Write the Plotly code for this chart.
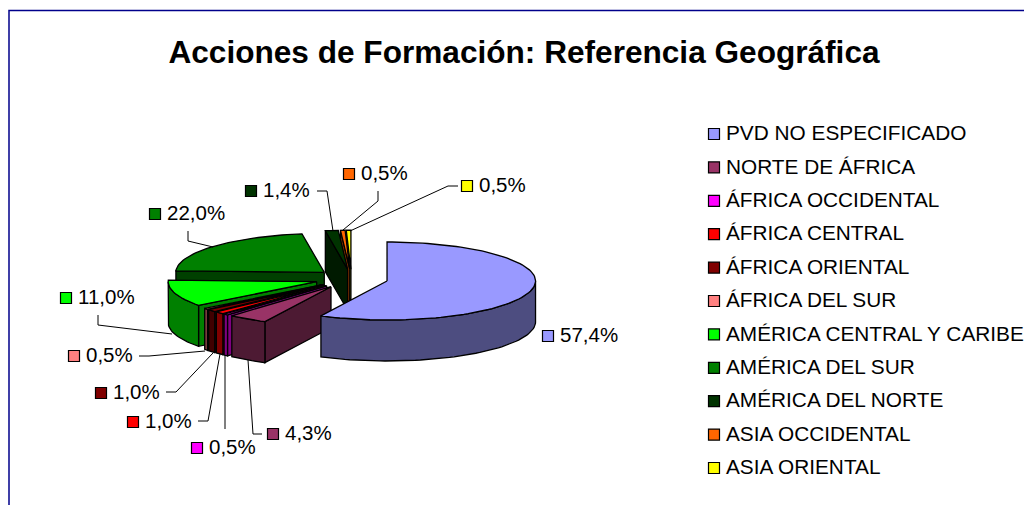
import math
import plotly.graph_objects as go

# ---- data ----
categories = ["PVD NO ESPECIFICADO", "NORTE DE ÁFRICA", "ÁFRICA OCCIDENTAL", "ÁFRICA CENTRAL",
              "ÁFRICA ORIENTAL", "ÁFRICA DEL SUR", "AMÉRICA CENTRAL Y CARIBE", "AMÉRICA DEL SUR",
              "AMÉRICA DEL NORTE", "ASIA OCCIDENTAL", "ASIA ORIENTAL"]
values = [57.4, 4.3, 0.5, 1.0, 1.0, 0.5, 11.0, 22.0, 1.4, 0.5, 0.5]
title_text = "Acciones de Formación: Referencia Geográfica"

# ---- styles ----
top_colors = ["#9999FF", "#993366", "#FF00FF", "#FF0000", "#800000", "#FF8080",
              "#00FF00", "#008000", "#003300", "#FF6600", "#FFFF00"]
side_colors = ["#4D4D80", "#4D1A33", "#800080", "#800000", "#400000", "#804040",
               "#008000", "#004000", "#001A00", "#803300", "#808000"]

# ---- layout of the pseudo-3D pie (axes are in screen pixels) ----
CX, CY, RX, RY, DEPTH, EXPLODE = 351.5, 278.8, 148.5, 39, 41, 36.5
FONT = "Liberation Sans, Arial, sans-serif"
EDGE = dict(color="black", width=1.3)

# swatch centre of each data label, matching order of categories
label_pos = [(548, 336), (273, 434), (197, 448), (133, 422), (101, 393), (74, 356),
             (66, 298), (155, 214), (251, 191), (349, 174), (467, 186)]
leaders = [None,
           [(262, 434), (253, 434), (248, 360)],
           [(225, 429), (225, 355)],
           [(198, 421), (208, 421), (220, 354)],
           [(166, 392), (176, 392), (213, 353)],
           [(139, 356), (149, 356), (205, 351)],
           [(98, 315), (98, 325), (172, 334)],
           [(188, 231), (188, 241), (213, 247)],
           [(317, 191), (327, 191), (333, 231)],
           [(378, 191), (378, 201), (343, 230)],
           [(458, 186), (448, 186), (350, 231)]]
legend_x, legend_y0, legend_dy = 714, 134, 33.4
TEXT_GAP, TEXT_DY = 12, 1

fig = go.Figure()


def poly(pts, fill):
    xs = [p[0] for p in pts] + [pts[0][0]]
    ys = [p[1] for p in pts] + [pts[0][1]]
    fig.add_trace(go.Scatter(x=xs, y=ys, mode="lines", fill="toself", fillcolor=fill,
                             line=EDGE, hoverinfo="skip", showlegend=False))


total = sum(values)
slices = []
cum = 0.0
for i, v in enumerate(values):
    a0 = cum / total * 360
    cum += v
    a1 = cum / total * 360
    slices.append((i, a0, a1))


def cos_mid(s):
    return math.cos(math.radians((s[1] + s[2]) / 2))


# back slices first, the first (largest) slice is painted last, on top of its neighbours
order = sorted(slices[1:], key=lambda s: -cos_mid(s)) + slices[:1]

for i, a0, a1 in order:
    mid = math.radians((a0 + a1) / 2)
    ax = CX + EXPLODE * math.sin(mid)
    ay = CY - EXPLODE * RY / RX * math.cos(mid)

    def pt(deg, dz=0):
        r = math.radians(deg)
        return (ax + RX * math.sin(r), ay - RY * math.cos(r) + dz)

    def arc(d0, d1, dz=0):
        n = max(2, int((d1 - d0) / 2) + 2)
        return [pt(d0 + (d1 - d0) * k / (n - 1), dz) for k in range(n)]

    # cut faces that look towards the viewer
    if math.sin(math.radians(a0)) < 0:
        poly([(ax, ay), pt(a0), pt(a0, DEPTH), (ax, ay + DEPTH)], side_colors[i])
    if math.sin(math.radians(a1)) > 0:
        poly([(ax, ay), pt(a1), pt(a1, DEPTH), (ax, ay + DEPTH)], side_colors[i])
    # outer rim (only the part that faces the viewer)
    r0, r1 = max(a0, 90), min(a1, 270)
    if r1 > r0:
        poly(arc(r0, r1) + arc(r0, r1, DEPTH)[::-1], side_colors[i])
    # top
    poly([(ax, ay)] + arc(a0, a1), top_colors[i])

# leader lines
for seg in leaders:
    if seg:
        fig.add_trace(go.Scatter(x=[p[0] for p in seg], y=[p[1] for p in seg], mode="lines",
                                 line=dict(color="black", width=1), hoverinfo="skip", showlegend=False))

MARK = dict(symbol="square", size=11, color=top_colors, line=dict(color="black", width=1.2))

# data labels
fig.add_trace(go.Scatter(
    x=[p[0] for p in label_pos], y=[p[1] for p in label_pos], mode="markers",
    marker=MARK, hoverinfo="skip", showlegend=False))
fig.add_trace(go.Scatter(
    x=[p[0] + TEXT_GAP for p in label_pos], y=[p[1] + TEXT_DY for p in label_pos], mode="text",
    text=[f"{v:.1f}%".replace(".", ",") for v in values],
    textposition="middle right", textfont=dict(family=FONT, size=20.5, color="black"),
    hoverinfo="skip", showlegend=False))

# legend rows
rows = [legend_y0 + legend_dy * k for k in range(len(categories))]
fig.add_trace(go.Scatter(
    x=[legend_x] * len(categories), y=rows, mode="markers",
    marker=MARK, hoverinfo="skip", showlegend=False))
fig.add_trace(go.Scatter(
    x=[legend_x + TEXT_GAP] * len(categories), y=[r + TEXT_DY for r in rows], mode="text",
    text=categories, textposition="middle right",
    textfont=dict(family=FONT, size=20.8, color="black"),
    hoverinfo="skip", showlegend=False, cliponaxis=False))

fig.update_layout(
    width=1024, height=505, margin=dict(l=0, r=0, t=0, b=0),
    paper_bgcolor="white", plot_bgcolor="white", showlegend=False,
    title=dict(text=title_text, x=524 / 1024, xanchor="center", y=1 - 52 / 505, yanchor="middle",
               font=dict(family=FONT, size=31.6, color="black", weight="bold")),
    xaxis=dict(range=[0, 1024], visible=False, fixedrange=True),
    yaxis=dict(range=[505, 0], visible=False, fixedrange=True),
    shapes=[dict(type="path", path="M 9 505 L 9 10.5 L 1024 10.5", xref="x", yref="y",
                 line=dict(color="#00008B", width=1.5))],
)
fig.write_html("out.html", config={"displayModeBar": False},
               post_script="document.body.style.margin='0';document.body.style.overflow='hidden';")
